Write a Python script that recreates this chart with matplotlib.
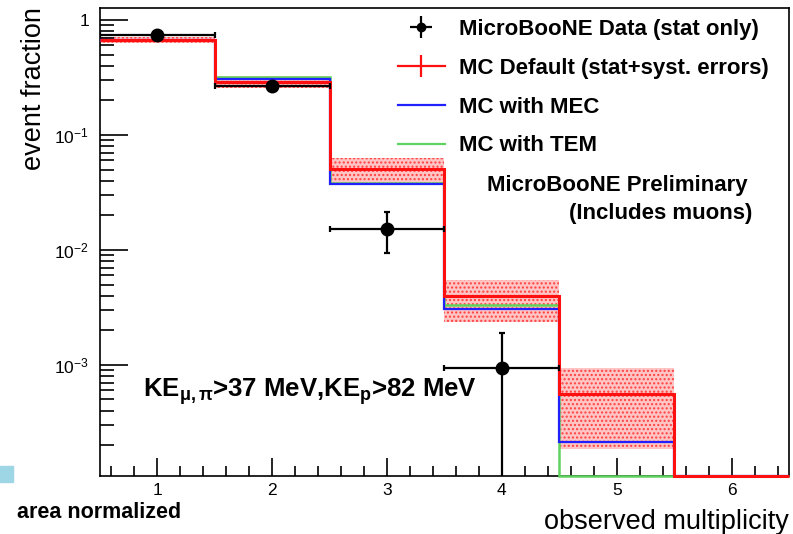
import numpy as np
import matplotlib.pyplot as plt
from matplotlib.patches import Rectangle
from matplotlib.ticker import FixedLocator, LogLocator, NullFormatter

plt.rcParams['font.family'] = ['Liberation Sans', 'DejaVu Sans']
plt.rcParams['mathtext.fontset'] = 'custom'
plt.rcParams['mathtext.rm'] = 'Liberation Sans'
plt.rcParams['mathtext.bf'] = 'Liberation Sans:bold'
plt.rcParams['mathtext.it'] = 'Liberation Sans:italic'

# bins of observed multiplicity
edges = np.array([0.5, 1.5, 2.5, 3.5, 4.5, 5.5, 6.5])

# data points (stat only)
data_x = [1, 2, 3, 4]
data_y = [0.74, 0.267, 0.0152, 0.00094]
data_err_lo = [0.03, 0.012, 0.0058, 0.000935]
data_err_hi = [0.03, 0.012, 0.0062, 0.00096]

# MC default with stat+syst band
mc_default = [0.67, 0.289, 0.0506, 0.0040, 0.00056, 0.0]
band_lo = [0.63, 0.256, 0.0367, 0.00237, 0.000186, 0.0]
band_hi = [0.71, 0.326, 0.063, 0.0055, 0.00094, 0.0]

mc_mec = [0.675, 0.306, 0.0375, 0.00307, 0.000214, 0.0]
mc_tem = [0.672, 0.32, 0.038, 0.0033, 0.0, 0.0]

ymin, ymax = 1.08e-4, 1.27

fig = plt.figure(figsize=(7.93, 5.34), dpi=100)
ax = fig.add_axes([100/793, 1 - 476/534, 689/793, 468/534])
ax.set_yscale('log')

# systematic band
for i in range(5):
    ax.fill_between([edges[i], edges[i+1]], band_lo[i], band_hi[i],
                    facecolor='#ffc4c4', edgecolor='#ff4040', hatch='....',
                    linewidth=0, zorder=1)

# empty bins are drawn along the frame floor, as ROOT does
def floor(v):
    return np.clip(np.asarray(v, dtype=float), ymin, None)

ax.stairs(floor(mc_tem), edges, baseline=None, color='#5fd35f', lw=1.8,
          zorder=3, clip_on=False)
ax.stairs(floor(mc_mec), edges, baseline=None, color='#2020ff', lw=1.6,
          zorder=3.1)
ax.stairs(floor(mc_default), edges, baseline=None, color='#ff1010', lw=2.2,
          zorder=4, clip_on=False)

data = ax.errorbar(data_x, data_y, xerr=0.5, yerr=[data_err_lo, data_err_hi],
                   fmt='o', color='black', ms=9, lw=1.6, capsize=2.5,
                   capthick=1.6, zorder=5)
data_proxy = ax.errorbar([np.nan], [np.nan], xerr=[[1]], yerr=[[1]],
                         fmt='o', color='black', ms=6, lw=1.6, capsize=0)
red_proxy = ax.errorbar([np.nan], [np.nan], yerr=[[1]], color='#ff1010',
                        lw=1.6, capsize=0)
blue_proxy, = ax.plot([], [], color='#2020ff', lw=1.6)
green_proxy, = ax.plot([], [], color='#5fd35f', lw=1.6)

ax.set_xlim(0.5, 6.5)
ax.set_ylim(ymin, ymax)

ax.xaxis.set_major_locator(FixedLocator([1, 2, 3, 4, 5, 6]))
ax.xaxis.set_minor_locator(FixedLocator(np.arange(0.6, 6.5, 0.2)))
ax.yaxis.set_major_locator(FixedLocator([1e-3, 1e-2, 1e-1, 1]))
ax.set_yticklabels([r'$10^{-3}$', r'$10^{-2}$', r'$10^{-1}$', '1'])
ax.yaxis.set_minor_locator(LogLocator(base=10, subs=np.arange(2, 10)))
ax.yaxis.set_minor_formatter(NullFormatter())

ax.tick_params(axis='both', which='both', direction='in', labelsize=12.5,
               width=1.2, top=False, right=False)
ax.tick_params(axis='y', which='major', length=20, pad=8)
ax.tick_params(axis='y', which='minor', length=10)
ax.tick_params(axis='x', which='major', length=13, pad=5)
ax.tick_params(axis='x', which='minor', length=7)
for sp in ax.spines.values():
    sp.set_linewidth(1.2)

fig.text(34/793, 1 - 89/534, 'event fraction', rotation=90, fontsize=19.5,
         ha='center', va='center')
fig.text(789/793, 1 - 522/534, 'observed multiplicity', fontsize=19.5,
         ha='right', va='center')
fig.text(17/793, 1 - 513/534, 'area normalized', fontsize=15.5,
         fontweight='bold', ha='left', va='center')
fig.patches.append(Rectangle((0, 1 - 482/534), 13/793, 16/534,
                             transform=fig.transFigure, color='#9fd6e6'))

ax.text(143/793, 1 - 397/534,
        r'KE$_{\mathbf{\mu,\pi}}$>37 MeV,KE$_{\mathbf{p}}$>82 MeV',
        transform=fig.transFigure, fontsize=18.5, fontweight='bold',
        ha='left', va='baseline')

leg = ax.legend([data_proxy, red_proxy, blue_proxy, green_proxy],
                ['MicroBooNE Data (stat only)',
                 'MC Default (stat+syst. errors)',
                 'MC with MEC', 'MC with TEM'],
                loc='upper left', bbox_to_anchor=(398/793, 1 - 19/534),
                bbox_transform=fig.transFigure, frameon=False,
                prop={'weight': 'bold', 'size': 16}, handlelength=2.1,
                handletextpad=0.65, labelspacing=0.8, borderpad=0,
                borderaxespad=0)

fig.text(748/793, 1 - 185/534, 'MicroBooNE Preliminary', fontsize=16,
         fontweight='bold', ha='right', va='center')
fig.text(752/793, 1 - 213/534, '(Includes muons)', fontsize=16,
         fontweight='bold', ha='right', va='center')

fig.savefig('out.png', dpi=100)
